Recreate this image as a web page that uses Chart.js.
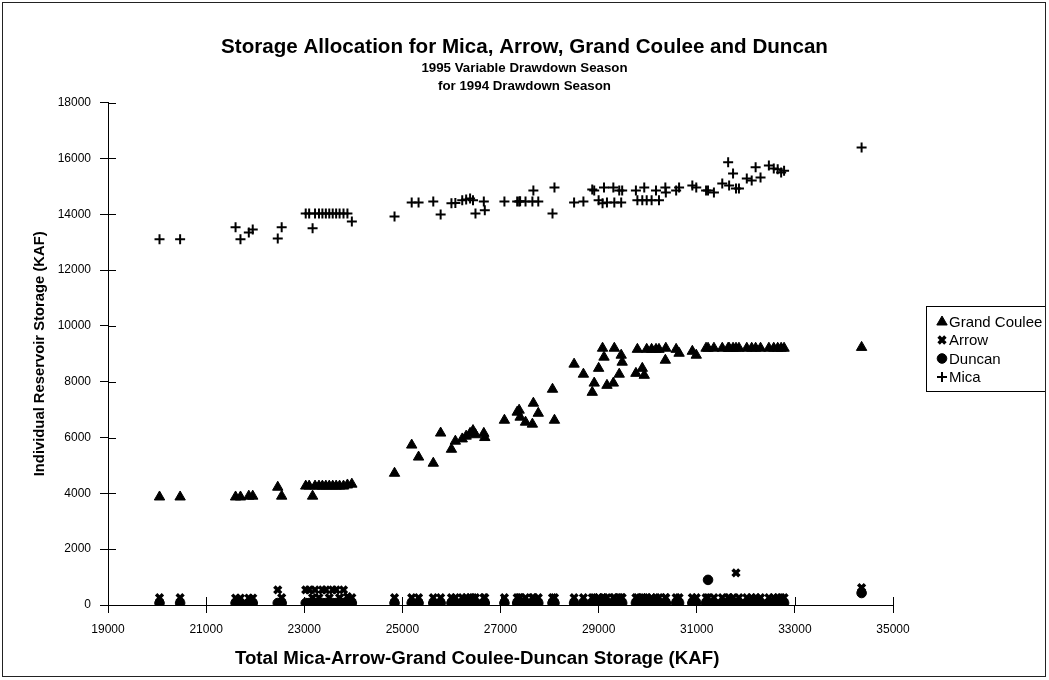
<!DOCTYPE html>
<html>
<head>
<meta charset="utf-8">
<script src="https://cdn.jsdelivr.net/npm/chart.js@4/dist/chart.umd.min.js"></script>
<style>
html,body{margin:0;padding:0;background:#fff;}
#wrap{width:1049px;height:680px;position:relative;}
canvas{display:block;}
</style>
</head>
<body>
<div id="wrap"><canvas id="c" width="1049" height="680"></canvas></div>
<script>
// Total Mica-Arrow-Grand Coulee-Duncan storage (KAF), one value per run
const totalStorage = [
  20050, 20470, 21600, 21700, 21870, 21950, 22460, 22540,
  23030, 23100, 23170, 23220, 23300, 23370, 23440, 23510, 23580, 23650, 23720, 23800, 23880, 23970,
  24840, 25190, 25330, 25630, 25780, 26000, 26080, 26220, 26300, 26380, 26440, 26490, 26660, 26680,
  27080, 27340, 27380, 27400, 27510, 27650, 27670, 27770, 28060, 28100,
  28500, 28690, 28870, 28910, 29000, 29080, 29110, 29170, 29300, 29320, 29420, 29460, 29480,
  29760, 29790, 29890, 29930, 29980, 30080, 30170, 30230, 30360, 30370, 30580, 30640, 30910, 30990,
  31190, 31230, 31350, 31520, 31640, 31660, 31740, 31800, 31860, 32020, 32120, 32200, 32300,
  32470, 32570, 32650, 32720, 32780, 34360
];
const grandCoulee = [
  3870, 3870, 3870, 3870, 3900, 3900, 4220, 3900,
  4260, 4260, 3900, 4260, 4260, 4260, 4260, 4260, 4260, 4260, 4260, 4260, 4300, 4330,
  4720, 5730, 5300, 5080, 6160, 5580, 5870, 5950, 6050, 6150, 6250, 6100, 6150, 6000,
  6620, 6910, 6980, 6730, 6550, 6480, 7230, 6870, 7730, 6620,
  8630, 8270, 7620, 7950, 8480, 9200, 8880, 7870, 7950, 9200, 8270, 8950, 8700,
  8300, 9160, 8480, 8230, 9160, 9160, 9160, 9160, 8770, 9200, 9160, 9020, 9090, 8950,
  9200, 9200, 9200, 9200, 9200, 9200, 9200, 9200, 9200, 9200, 9200, 9200, 9200,
  9200, 9200, 9200, 9200, 9200, 9230
];
const arrow = [
  260, 260, 250, 250, 250, 250, 540, 260,
  540, 540, 260, 540, 260, 540, 540, 260, 540, 540, 260, 540, 300, 260,
  260, 260, 260, 260, 260, 260, 260, 260, 260, 260, 260, 260, 260, 260,
  260, 260, 260, 260, 260, 260, 260, 260, 260, 260,
  260, 260, 260, 260, 260, 260, 260, 260, 260, 260, 260, 260, 260,
  260, 260, 260, 260, 260, 260, 260, 260, 260, 260, 260, 260, 260, 260,
  260, 260, 260, 260, 260, 260, 260, 1150, 260, 260, 260, 260, 260,
  260, 260, 260, 260, 260, 620
];
const duncan = [
  70, 70, 70, 70, 70, 70, 70, 70,
  70, 70, 70, 70, 70, 70, 70, 70, 70, 70, 70, 70, 70, 70,
  70, 70, 70, 70, 70, 70, 70, 70, 70, 70, 70, 70, 70, 70,
  70, 70, 70, 70, 70, 70, 70, 70, 70, 70,
  70, 70, 70, 70, 70, 70, 70, 70, 70, 70, 70, 70, 70,
  70, 70, 70, 70, 70, 70, 70, 70, 70, 70, 70, 70, 70, 70,
  70, 900, 70, 70, 70, 70, 70, 70, 70, 70, 70, 70, 70,
  70, 70, 70, 70, 70, 430
];
const mica = [
  13100, 13100, 13530, 13100, 13350, 13450, 13130, 13530,
  14030, 14030, 13500, 14030, 14030, 14030, 14030, 14030, 14030, 14030, 14030, 14030, 14030, 13740,
  13920, 14420, 14420, 14460, 13990, 14390, 14400, 14500, 14530, 14560, 14500, 14030, 14460, 14140,
  14460, 14460, 14460, 14470, 14460, 14460, 14850, 14460, 14030, 14960,
  14420, 14460, 14890, 14850, 14500, 14390, 14960, 14420, 14960, 14420, 14850, 14420, 14850,
  14850, 14500, 14500, 14960, 14500, 14500, 14850, 14500, 14960, 14780, 14850, 14960, 15030, 14960,
  14850, 14850, 14780, 15100, 15860, 15030, 15460, 14920, 14920, 15280, 15210, 15680, 15320,
  15750, 15640, 15610, 15500, 15560, 16390
];
const seriesNames = ['Grand Coulee', 'Arrow', 'Duncan', 'Mica'];
const xTicks = [19000, 21000, 23000, 25000, 27000, 29000, 31000, 33000, 35000];
const yTicks = [0, 2000, 4000, 6000, 8000, 10000, 12000, 14000, 16000, 18000];
const titleText = 'Storage Allocation for Mica, Arrow, Grand Coulee and Duncan';
const subtitleLines = ['1995 Variable Drawdown Season', 'for 1994 Drawdown Season'];
const xTitle = 'Total Mica-Arrow-Grand Coulee-Duncan Storage (KAF)';
const yTitle = 'Individual Reservoir Storage (KAF)';

const FONT = "'Liberation Sans', Arial, Helvetica, sans-serif";
const pts = vals => totalStorage.map((x, i) => ({x: x, y: vals[i]}));

const styles = [
  {pointStyle: 'triangle', radius: 6, borderWidth: 1},
  {pointStyle: 'crossRot', radius: 4.8, borderWidth: 3.5},
  {pointStyle: 'circle', radius: 4.8, borderWidth: 1},
  {pointStyle: 'cross', radius: 5, borderWidth: 2}
];
const values = [grandCoulee, arrow, duncan, mica];

const datasets = seriesNames.map((name, k) => ({
  label: name,
  data: pts(values[k]),
  pointStyle: styles[k].pointStyle,
  pointRadius: styles[k].radius,
  pointHoverRadius: styles[k].radius,
  pointBorderWidth: styles[k].borderWidth,
  backgroundColor: '#000',
  borderColor: '#000',
  showLine: false
}));

// reserves the space on the right of the plot where the legend sits
const rightSpace = {
  id: 'rightSpace',
  beforeInit(chart) {
    const box = {
      position: 'right', weight: 0, fullSize: false,
      options: {},
      width: 0, height: 0, left: 0, top: 0, right: 0, bottom: 0,
      isHorizontal() { return false; },
      update(maxWidth, maxHeight) { this.width = 156; this.height = maxHeight; },
      draw() {}
    };
    Chart.layouts.addBox(chart, box);
  }
};

const decor = {
  id: 'decor',
  afterDraw(chart) {
    const ctx = chart.ctx;
    const xs = chart.scales.x, ys = chart.scales.y;
    ctx.save();
    ctx.strokeStyle = '#000';
    ctx.lineWidth = 1;
    // inward half of crossing tick marks
    ctx.beginPath();
    xs.ticks.forEach(t => {
      const px = Math.round(xs.getPixelForValue(t.value)) + 0.5;
      ctx.moveTo(px, ys.bottom);
      ctx.lineTo(px, ys.bottom - 8);
    });
    ys.ticks.forEach(t => {
      const py = Math.round(ys.getPixelForValue(t.value)) + 0.5;
      ctx.moveTo(xs.left, py);
      ctx.lineTo(xs.left + 8, py);
    });
    ctx.stroke();

    // legend
    const lx = 926.5, ly = 306.5, lw = 119, lh = 85;
    ctx.strokeStyle = '#000';
    ctx.strokeRect(lx, ly, lw, lh);
    const rows = [322, 340, 358.5, 377];
    ctx.font = '15px ' + FONT;
    ctx.textBaseline = 'middle';
    ctx.textAlign = 'left';
    chart.data.datasets.forEach((ds, i) => {
      const opts = {
        pointStyle: ds.pointStyle,
        radius: ds.pointRadius,
        borderWidth: ds.pointBorderWidth,
        rotation: 0
      };
      ctx.fillStyle = '#000';
      ctx.strokeStyle = '#000';
      ctx.lineWidth = ds.pointBorderWidth;
      if (Chart.helpers && Chart.helpers.drawPoint) {
        Chart.helpers.drawPoint(ctx, opts, 942, rows[i]);
      }
      ctx.fillStyle = '#000';
      ctx.fillText(ds.label, 949, rows[i] + 1);
    });

    // outer frame
    ctx.lineWidth = 1;
    ctx.strokeStyle = '#222';
    ctx.strokeRect(2.5, 2.5, 1043, 674);
    ctx.restore();
  }
};

new Chart(document.getElementById('c'), {
  type: 'scatter',
  data: {datasets: datasets},
  plugins: [rightSpace, decor],
  options: {
    responsive: false,
    animation: false,
    devicePixelRatio: 1,
    layout: {padding: {left: 0, right: 0, top: 0, bottom: 0}},
    plugins: {
      legend: {display: false},
      tooltip: {enabled: false},
      title: {
        display: true,
        text: titleText,
        color: '#000',
        font: {family: FONT, size: 20.6, weight: 'bold', lineHeight: 1.0},
        padding: {top: 37, bottom: 0}
      },
      subtitle: {
        display: true,
        text: subtitleLines,
        color: '#000',
        font: {family: FONT, size: 13.3, weight: 'bold', lineHeight: 18 / 13.3},
        padding: {top: 2, bottom: 7}
      }
    },
    scales: {
      x: {
        type: 'linear',
        min: 19000, max: 35000,
        afterFit: s => { s.height = 75; },
        afterBuildTicks: s => { s.ticks = xTicks.map(v => ({value: v})); },
        ticks: {
          color: '#000', padding: 9,
          font: {family: FONT, size: 12},
          maxRotation: 0,
          callback: v => String(v)
        },
        grid: {drawOnChartArea: false, drawTicks: true, tickLength: 8, color: '#000'},
        border: {display: true, color: '#000', width: 1},
        title: {
          display: true,
          text: xTitle + '\u00a0\u00a0\u00a0\u00a0\u00a0\u00a0\u00a0\u00a0\u00a0',
          color: '#000',
          font: {family: FONT, size: 18.7, weight: 'bold', lineHeight: 1.2},
          padding: {top: 0, bottom: 10}
        }
      },
      y: {
        type: 'linear',
        min: 0, max: 18000,
        afterFit: s => { s.width = 108; },
        afterBuildTicks: s => { s.ticks = yTicks.map(v => ({value: v})); },
        ticks: {
          color: '#000', padding: 9,
          font: {family: FONT, size: 12},
          callback: v => String(v)
        },
        grid: {drawOnChartArea: false, drawTicks: true, tickLength: 8, color: '#000'},
        border: {display: true, color: '#000', width: 1},
        title: {
          display: true,
          text: yTitle,
          color: '#000',
          font: {family: FONT, size: 14.8, weight: 'bold', lineHeight: 1.2},
          padding: {top: 31, bottom: 0}
        }
      }
    }
  }
});
</script>
</body>
</html>
